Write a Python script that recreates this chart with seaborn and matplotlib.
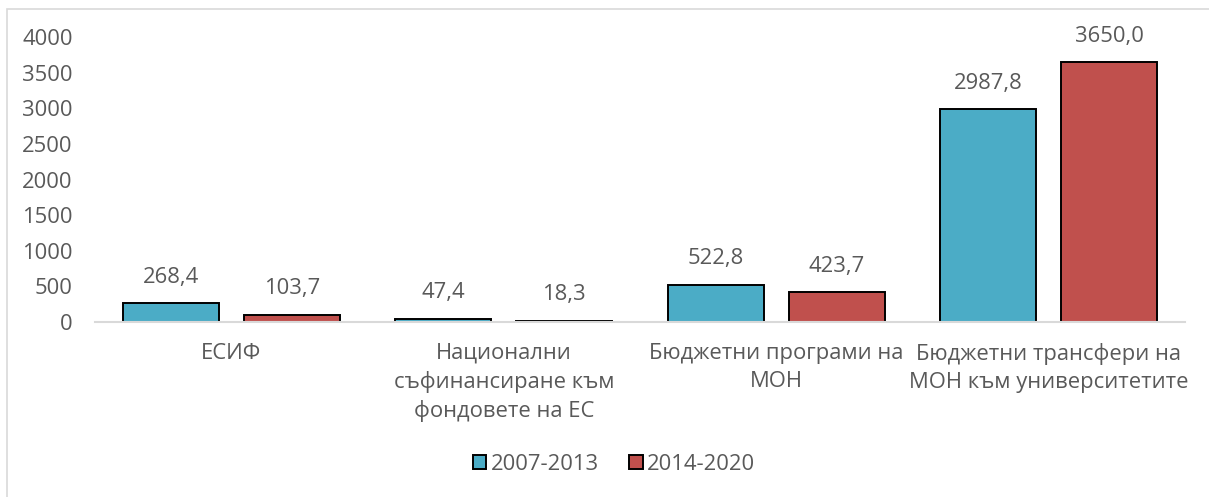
import pandas as pd
import matplotlib
matplotlib.use("Agg")
import matplotlib.pyplot as plt
import matplotlib.patches as mpatches
import seaborn as sns

# данни от графиката (млн. лв.)
categories = [
    "ЕСИФ",
    "Национални\nсъфинансиране към\nфондовете на ЕС",
    "Бюджетни програми на\nМОН",
    "Бюджетни трансфери на\nМОН към университетите",
]
periods = ["2007-2013", "2014-2020"]
values_2007_2013 = [268.4, 47.4, 522.8, 2987.8]
values_2014_2020 = [103.7, 18.3, 423.7, 3650.0]
y_ticks = [0, 500, 1000, 1500, 2000, 2500, 3000, 3500, 4000]

colors = ["#4BACC6", "#C0504D"]
text_color = "#595959"
fs = 15.8

df = pd.DataFrame({
    "category": categories * 2,
    "period": [periods[0]] * 4 + [periods[1]] * 4,
    "value": values_2007_2013 + values_2014_2020,
})

sns.set_theme(style="white")
plt.rcParams["font.family"] = ["Open Sans", "DejaVu Sans"]

fig = plt.figure(figsize=(12.09, 4.97), dpi=100)
ax = fig.add_axes([95 / 1209, 1 - 322 / 497, 1090 / 1209, 285 / 497])

sns.barplot(data=df, x="category", y="value", hue="period", order=categories,
            hue_order=periods, palette=colors, width=0.888, gap=0.207,
            edgecolor="black", linewidth=1.4, saturation=1, ax=ax)

for cont in ax.containers:
    labels = [f"{b.get_height():.1f}".replace(".", ",") for b in cont]
    ax.bar_label(cont, labels=labels, padding=11, fontsize=fs, color=text_color)

ax.set_xlim(-0.5, 3.5)
ax.set_ylim(0, 4000)
ax.set_yticks(y_ticks)
ax.set_yticklabels([str(t) for t in y_ticks], fontsize=fs, color=text_color)
ax.set_xticks(range(len(categories)))
ax.set_xticklabels(categories, fontsize=fs, color=text_color, linespacing=1.42)
ax.tick_params(axis="both", length=0)
ax.tick_params(axis="y", pad=16)
ax.tick_params(axis="x", pad=15)
ax.set_xlabel("")
ax.set_ylabel("")
for s in ["top", "right", "left"]:
    ax.spines[s].set_visible(False)
ax.spines["bottom"].set_color("#d9d9d9")
ax.spines["bottom"].set_linewidth(1.5)

handles, labels = ax.get_legend_handles_labels()
ax.get_legend().remove()
fig.legend(handles, labels, loc="center", bbox_to_anchor=(614 / 1209, 1 - 464 / 497),
           ncol=2, frameon=False, fontsize=fs, labelcolor=text_color,
           handlelength=0.6, handleheight=0.6, handletextpad=0.2, columnspacing=1.4)

# рамка около графиката
fig.patches.append(mpatches.Rectangle((7 / 1209, -0.05), 1.2, 1 - 9 / 497 + 0.05,
                                      transform=fig.transFigure, fill=False,
                                      edgecolor="#d9d9d9", linewidth=1.2))

fig.savefig("out.png", dpi=100)
